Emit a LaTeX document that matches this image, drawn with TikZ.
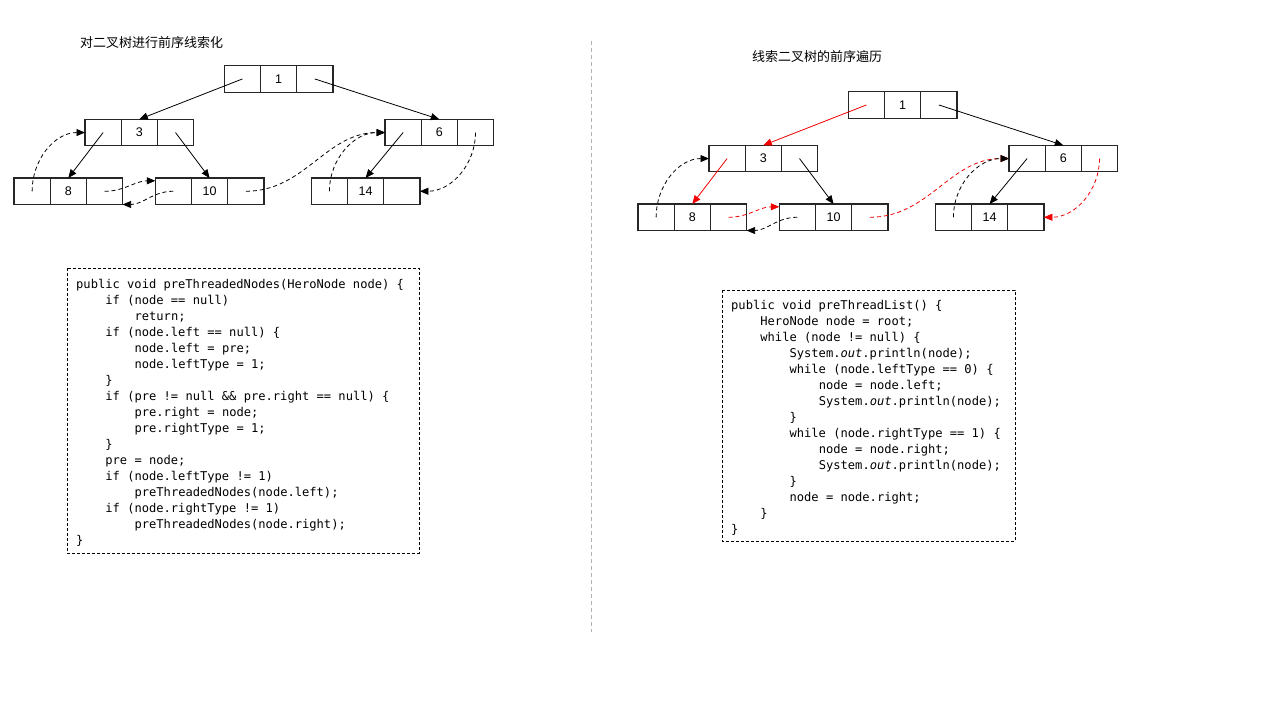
\documentclass[tikz,border=0pt]{standalone}
\usepackage{fontspec}
\setmainfont{Liberation Sans}
\newfontfamily\cjk{Noto Sans CJK SC}
\newfontfamily\codefont{DejaVu Sans Mono}
\usetikzlibrary{arrows.meta}
\definecolor{threadred}{RGB}{240,0,0}
\begin{document}
\begin{tikzpicture}[x=1pt,y=-1pt,
    cell/.style={draw=black!85,line width=1.3pt,minimum width=36.2pt,minimum height=26.5pt,
        inner sep=0pt,outer sep=0pt,font=\fontsize{12.5}{14}\selectfont},
    link/.style={-{Triangle[length=8.5pt,width=7pt]},line width=0.8pt},
    thread/.style={link,dash pattern=on 4pt off 3pt},
    codebox/.style={draw,line width=0.8pt,dash pattern=on 3pt off 2pt},
    codeline/.style={anchor=base west,inner sep=0pt,font=\codefont\fontsize{12.1}{16}\selectfont},
    title/.style={anchor=west,inner sep=0pt,font=\cjk\fontsize{13}{15}\selectfont}]
        \useasboundingbox (0,0) rectangle (1280,720);

        % Titles
        \node[title] (titleL) at (80,43) {对二叉树进行前序线索化};
        \node[title] (titleR) at (752,57) {线索二叉树的前序遍历};

        % Divider
        \draw[gray!60,line width=0.8pt,dash pattern=on 4pt off 3pt] (591,41) -- (591,632);

        % Draw the two trees (left: threading, right: traversal)
        \foreach \t/\dx/\dy in {L/0/0, R/624/26} {
            \foreach \n/\x/\y in {1/224.3/65.7, 3/85/119.3, 6/385/119.3, 8/14/178, 10/155.3/178, 14/311.3/178} {
                \node[cell] (\t\n-l) at (\x+\dx+18.1, \y+\dy+13.25) {};
                \node[cell] (\t\n-m) at (\x+\dx+54.3, \y+\dy+13.25) {\n};
                \node[cell] (\t\n-r) at (\x+\dx+90.5, \y+\dy+13.25) {};
            }
        }

        % Left tree: child links
        \draw[link] (L1-l.center) -- (L3-m.north);
        \draw[link] (L1-r.center) -- (L6-m.north);
        \draw[link] (L3-l.center) -- (L8-m.north);
        \draw[link] (L3-r.center) -- (L10-m.north);
        \draw[link] (L6-l.center) -- (L14-m.north);

        % Left tree: threads
        \draw[thread] (L8-l.center) to[out=90,in=180] (L3-l.west);
        \draw[thread] (L8-r.center) to[out=0,in=180] (L10-l.150);
        \draw[thread] (L10-l.center) to[out=180,in=0] (L8-r.south east);
        \draw[thread] (L10-r.center) to[out=0,in=180] (L6-l.west);
        \draw[thread] (L14-l.center) to[out=90,in=180] (L6-l.west);
        \draw[thread] (L6-r.center) to[out=-90,in=0] (L14-r.east);

        % Right tree: child links (red = visiting order)
        \draw[link,threadred] (R1-l.center) -- (R3-m.north);
        \draw[link] (R1-r.center) -- (R6-m.north);
        \draw[link,threadred] (R3-l.center) -- (R8-m.north);
        \draw[link] (R3-r.center) -- (R10-m.north);
        \draw[link] (R6-l.center) -- (R14-m.north);

        % Right tree: threads
        \draw[thread] (R8-l.center) to[out=90,in=180] (R3-l.west);
        \draw[thread,threadred] (R8-r.center) to[out=0,in=180] (R10-l.150);
        \draw[thread] (R10-l.center) to[out=180,in=0] (R8-r.south east);
        \draw[thread,threadred] (R10-r.center) to[out=0,in=180] (R6-l.west);
        \draw[thread] (R14-l.center) to[out=90,in=180] (R6-l.west);
        \draw[thread,threadred] (R6-r.center) to[out=-90,in=0] (R14-r.east);

        % Code: threading
        \draw[codebox] (67,268) rectangle (419,553);
        \foreach \i/\s [count=\n from 0] in {
            0/public void preThreadedNodes(HeroNode node) \{,
            1/if (node == null),
            2/return;,
            1/if (node.left == null) \{,
            2/node.left = pre;,
            2/node.leftType = 1;,
            1/\},
            1/if (pre != null \&\& pre.right == null) \{,
            2/pre.right = node;,
            2/pre.rightType = 1;,
            1/\},
            1/pre = node;,
            1/if (node.leftType != 1),
            2/preThreadedNodes(node.left);,
            1/if (node.rightType != 1),
            2/preThreadedNodes(node.right);,
            0/\}} {
            \node[codeline] (codeL\n) at (76+29.2*\i, 288+16*\n) {\s};
        }

        % Code: traversal
        \draw[codebox] (722,290) rectangle (1015,541);
        \foreach \i/\s [count=\n from 0] in {
            0/public void preThreadList() \{,
            1/HeroNode node = root;,
            1/while (node != null) \{,
            2/System.\textit{out}.println(node);,
            2/while (node.leftType == 0) \{,
            3/node = node.left;,
            3/System.\textit{out}.println(node);,
            2/\},
            2/while (node.rightType == 1) \{,
            3/node = node.right;,
            3/System.\textit{out}.println(node);,
            2/\},
            2/node = node.right;,
            1/\},
            0/\}} {
            \node[codeline] (codeR\n) at (731+29.2*\i, 309+16*\n) {\s};
        }
\end{tikzpicture}
\end{document}
